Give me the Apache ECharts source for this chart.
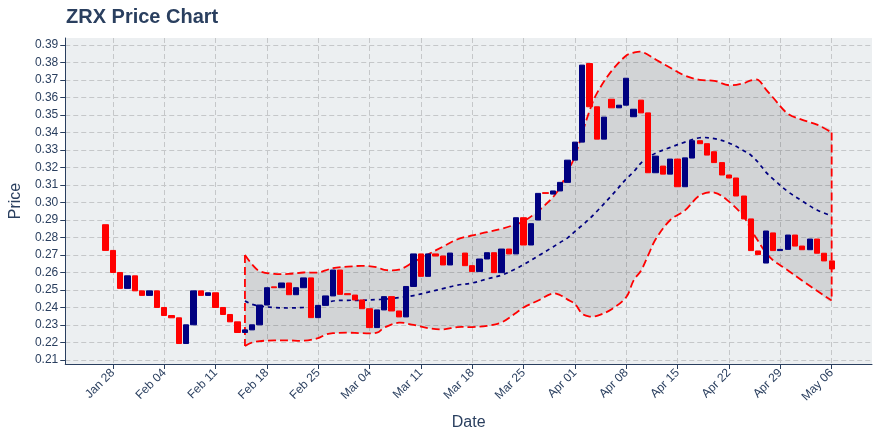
<!DOCTYPE html>
<html><head><meta charset="utf-8">
<script src="https://cdn.jsdelivr.net/npm/echarts@6/dist/echarts.min.js"></script>
<style>html,body{margin:0;padding:0;background:#fff}#c{width:880px;height:440px}</style>
</head><body><div id="c"></div>
<script>
// ---- data ----
const dates = [
 '2019-01-27','2019-01-28','2019-01-29','2019-01-30','2019-01-31',
 '2019-02-01','2019-02-02','2019-02-03','2019-02-04','2019-02-05','2019-02-06','2019-02-07','2019-02-08','2019-02-09','2019-02-10',
 '2019-02-11','2019-02-12','2019-02-13','2019-02-14','2019-02-15','2019-02-16','2019-02-17','2019-02-18','2019-02-19','2019-02-20',
 '2019-02-21','2019-02-22','2019-02-23','2019-02-24','2019-02-25','2019-02-26','2019-02-27','2019-02-28',
 '2019-03-01','2019-03-02','2019-03-03','2019-03-04','2019-03-05','2019-03-06','2019-03-07','2019-03-08','2019-03-09','2019-03-10',
 '2019-03-11','2019-03-12','2019-03-13','2019-03-14','2019-03-15','2019-03-17','2019-03-18','2019-03-19','2019-03-20',
 '2019-03-21','2019-03-22','2019-03-23','2019-03-24','2019-03-25','2019-03-26','2019-03-27','2019-03-28','2019-03-29','2019-03-30','2019-03-31',
 '2019-04-01','2019-04-02','2019-04-03','2019-04-04','2019-04-05','2019-04-06','2019-04-07','2019-04-08','2019-04-09','2019-04-10',
 '2019-04-11','2019-04-12','2019-04-13','2019-04-14','2019-04-15','2019-04-16','2019-04-17','2019-04-18','2019-04-19','2019-04-20',
 '2019-04-21','2019-04-22','2019-04-23','2019-04-24','2019-04-25','2019-04-26','2019-04-27','2019-04-28','2019-04-29','2019-04-30',
 '2019-05-01','2019-05-02','2019-05-03','2019-05-04','2019-05-05','2019-05-06'
];
const opens = [
 0.2873,0.2726,0.2600,0.2509,0.2581,
 0.2495,0.2469,0.2495,0.2400,0.2354,0.2341,0.2194,0.2301,0.2495,0.2469,
 0.2484,0.2400,0.2360,0.2318,0.2257,0.2272,0.2301,0.2414,0.2518,0.2513,
 0.2540,0.2473,0.2513,0.2569,0.2342,0.2412,0.2466,0.2614,
 0.2479,0.2471,0.2443,0.2393,0.2285,0.2386,0.2462,0.2380,0.2346,0.2520,
 0.2706,0.2578,0.2706,0.2694,0.2643,0.2711,0.2639,0.2605,0.2677,
 0.2713,0.2599,0.2734,0.2706,0.2913,0.2757,0.2900,0.3056,0.3048,0.3066,0.3115,
 0.3242,0.3345,0.3794,0.3547,0.3362,0.3590,0.3541,0.3556,0.3490,0.3585,
 0.3512,0.3170,0.3208,0.3162,0.3248,0.3090,0.3254,0.3353,0.3336,0.3290,
 0.3228,0.3157,0.3140,0.3037,0.2906,0.2723,0.2654,0.2826,0.2725,0.2732,
 0.2814,0.2751,0.2730,0.2791,0.2710,0.2666
];
const closes = [
 0.2726,0.2600,0.2509,0.2581,0.2495,
 0.2469,0.2495,0.2400,0.2354,0.2341,0.2194,0.2301,0.2495,0.2469,0.2484,
 0.2400,0.2360,0.2318,0.2257,0.2272,0.2301,0.2414,0.2513,0.2513,0.2540,
 0.2473,0.2513,0.2569,0.2342,0.2412,0.2466,0.2614,0.2475,
 0.2473,0.2443,0.2393,0.2285,0.2386,0.2462,0.2380,0.2346,0.2520,0.2706,
 0.2578,0.2706,0.2694,0.2643,0.2711,0.2639,0.2605,0.2677,0.2713,
 0.2599,0.2734,0.2706,0.2913,0.2757,0.2879,0.3052,0.3052,0.3066,0.3115,0.3242,
 0.3345,0.3785,0.3547,0.3362,0.3488,0.3541,0.3556,0.3710,0.3533,0.3512,
 0.3170,0.3265,0.3162,0.3248,0.3090,0.3255,0.3353,0.3336,0.3271,0.3228,
 0.3157,0.3140,0.3037,0.2906,0.2725,0.2702,0.2837,0.2725,0.2732,0.2814,
 0.2751,0.2730,0.2791,0.2710,0.2666,0.2620
];
const bandDates = [
 '2019-02-15','2019-02-16','2019-02-17','2019-02-19','2019-02-21','2019-02-23','2019-02-25','2019-02-26','2019-02-27',
 '2019-03-01','2019-03-03','2019-03-05','2019-03-06','2019-03-08','2019-03-10','2019-03-12','2019-03-14','2019-03-16',
 '2019-03-18','2019-03-20','2019-03-22','2019-03-24','2019-03-25','2019-03-27','2019-03-29','2019-03-30','2019-03-31',
 '2019-04-01','2019-04-02','2019-04-03','2019-04-04','2019-04-06','2019-04-08','2019-04-09','2019-04-10','2019-04-11',
 '2019-04-12','2019-04-14','2019-04-16','2019-04-18','2019-04-20','2019-04-22','2019-04-24','2019-04-25','2019-04-26',
 '2019-04-27','2019-04-28','2019-04-30','2019-05-02','2019-05-04','2019-05-06'
];
const upperBand = [
 0.2700,0.2645,0.2608,0.2592,0.2592,0.2600,0.2600,0.2612,0.2625,
 0.2633,0.2638,0.2630,0.2615,0.2616,0.2660,0.2704,0.2748,0.2790,
 0.2812,0.2830,0.2850,0.2876,0.2892,0.2952,0.3030,0.3090,0.3175,
 0.3265,0.3397,0.3525,0.3625,0.3752,0.3840,0.3856,0.3862,0.3843,
 0.3817,0.3770,0.3725,0.3701,0.3695,0.3670,0.3682,0.3698,0.3700,
 0.3648,0.3600,0.3508,0.3472,0.3445,0.3400
];
const middleBand = [
 0.2437,0.2418,0.2408,0.2400,0.2397,0.2400,0.2405,0.2420,0.2437,
 0.2441,0.2441,0.2445,0.2447,0.2456,0.2468,0.2488,0.2508,0.2528,
 0.2540,0.2563,0.2585,0.2622,0.2645,0.2695,0.2746,0.2772,0.2798,
 0.2835,0.2870,0.2908,0.2950,0.3040,0.3135,0.3175,0.3225,0.3258,
 0.3282,0.3315,0.3345,0.3370,0.3365,0.3340,0.3296,0.3270,0.3228,
 0.3175,0.3135,0.3063,0.3008,0.2957,0.2924
];
const lowerBand = [
 0.2180,0.2200,0.2208,0.2212,0.2212,0.2210,0.2225,0.2245,0.2253,
 0.2256,0.2253,0.2256,0.2285,0.2313,0.2300,0.2282,0.2275,0.2288,
 0.2288,0.2295,0.2315,0.2370,0.2400,0.2440,0.2481,0.2470,0.2445,
 0.2420,0.2363,0.2348,0.2352,0.2390,0.2460,0.2555,0.2610,0.2700,
 0.2790,0.2900,0.2955,0.3040,0.3057,0.3005,0.2920,0.2845,0.2778,
 0.2715,0.2670,0.2613,0.2553,0.2495,0.2440
];
const yTicks = [0.21,0.22,0.23,0.24,0.25,0.26,0.27,0.28,0.29,0.30,0.31,0.32,0.33,0.34,0.35,0.36,0.37,0.38,0.39];
const xTickDates = ['2019-01-28','2019-02-04','2019-02-11','2019-02-18','2019-02-25','2019-03-04','2019-03-11','2019-03-18','2019-03-25','2019-04-01','2019-04-08','2019-04-15','2019-04-22','2019-04-29','2019-05-06'];
const xTickLabels = ['Jan 28','Feb 04','Feb 11','Feb 18','Feb 25','Mar 04','Mar 11','Mar 18','Mar 25','Apr 01','Apr 08','Apr 15','Apr 22','Apr 29','May 06'];
const axisStart = '2019-01-22';
const axisEnd = '2019-05-11';

// ---- build ----
function dayIdx(s){const p=s.split('-').map(Number);const q=axisStart.split('-').map(Number);return Math.round((Date.UTC(p[0],p[1]-1,p[2])-Date.UTC(q[0],q[1]-1,q[2]))/864e5);}
const nDays = dayIdx(axisEnd) + 1;
const categories = [];
for (let i = 0; i < nDays; i++) categories.push(new Date(Date.UTC(2019,0,22+i)).toISOString().slice(0,10));
const candleData = categories.map(() => '-');
dates.forEach((d,k) => { const o = opens[k], c = closes[k]; candleData[dayIdx(d)] = [o, c, Math.min(o,c), Math.max(o,c)]; });
const bx = bandDates.map(dayIdx);
const upPts = bx.map((x,k) => [x, upperBand[k]]);
const midPts = bx.map((x,k) => [x, middleBand[k]]);
const lowPts = bx.map((x,k) => [x, lowerBand[k]]);
const xTickIdx = xTickDates.map(dayIdx);

const font = '"Liberation Sans", Arial, sans-serif';
const ink = '#2a3f5f';
const gridLine = {show:true, lineStyle:{color:'#c5c7c9', width:1, type:[5,3]}};
const SM = 0.35;

function renderBands(params, api){
  const U = upPts.map(p => api.coord(p));
  const L = lowPts.map(p => api.coord(p));
  const M = midPts.map(p => api.coord(p));
  const n = U.length - 1;
  const poly = U.concat(L.slice().reverse());
  const cons = [[U[0][0], -1e4], [U[n][0], 1e4]];
  const red = {stroke:'#ff0000', lineWidth:1.8, lineDash:[8,4], fill:null};
  return {type:'group', children:[
    {type:'polygon', shape:{points:poly, smooth:SM, smoothConstraint:cons}, style:{fill:'rgba(0,0,0,0.11)', stroke:null}},
    {type:'polyline', shape:{points:M, smooth:SM}, style:{stroke:'#000080', lineWidth:1.7, lineDash:[4,4], fill:null}},
    {type:'polyline', shape:{points:U, smooth:SM}, style:red},
    {type:'polyline', shape:{points:L, smooth:SM}, style:red},
    {type:'line', shape:{x1:U[0][0], y1:U[0][1], x2:L[0][0], y2:L[0][1]}, style:red},
    {type:'line', shape:{x1:U[n][0], y1:U[n][1], x2:L[n][0], y2:L[n][1]}, style:red}
  ]};
}

const chart = echarts.init(document.getElementById('c'));
chart.setOption({
  animation:false,
  backgroundColor:'#ffffff',
  title:{text:'ZRX Price Chart', left:61, top:2, textStyle:{fontFamily:font, fontSize:20, fontWeight:'bold', color:ink}},
  grid:{left:64, right:8, top:38, bottom:76, show:true, backgroundColor:'#eceff1', borderWidth:0},
  xAxis:[
    {type:'category', data:categories, boundaryGap:true, show:false, position:'bottom'},
    {type:'value', min:-0.5, max:nDays-0.5, position:'bottom',
     name:'Date', nameLocation:'middle', nameGap:51,
     nameTextStyle:{fontFamily:font, fontSize:16, color:ink},
     axisLine:{show:true, onZero:false, lineStyle:{color:ink, width:1}},
     axisTick:{show:true, length:5, customValues:xTickIdx, lineStyle:{color:ink}},
     axisLabel:{customValues:xTickIdx, rotate:45, margin:7, fontFamily:font, fontSize:12, color:ink,
       formatter:(v)=>{const k = xTickIdx.indexOf(Math.round(v)); return k>=0 ? xTickLabels[k] : '';}},
     splitLine:gridLine}
  ],
  yAxis:{type:'value', min:0.2077, max:0.394,
    name:'Price', nameLocation:'middle', nameGap:41, nameRotate:90,
    nameTextStyle:{fontFamily:font, fontSize:16, color:ink},
    axisLine:{show:true, onZero:false, lineStyle:{color:ink, width:1}},
    axisTick:{show:true, length:5, customValues:yTicks, lineStyle:{color:ink}},
    axisLabel:{customValues:yTicks, margin:7, fontFamily:font, fontSize:12, color:ink, formatter:(v)=>v.toFixed(2)},
    splitLine:gridLine},
  series:[
    {type:'candlestick', xAxisIndex:0, yAxisIndex:0, data:candleData, barWidth:5.8,
     itemStyle:{color:'#000080', color0:'#ff0000', borderColor:'#000080', borderColor0:'#ff0000', borderWidth:1}},
    {type:'custom', xAxisIndex:1, yAxisIndex:0, data:[[bx[0], middleBand[0]]], renderItem:renderBands, silent:true}
  ]
});
</script></body></html>
